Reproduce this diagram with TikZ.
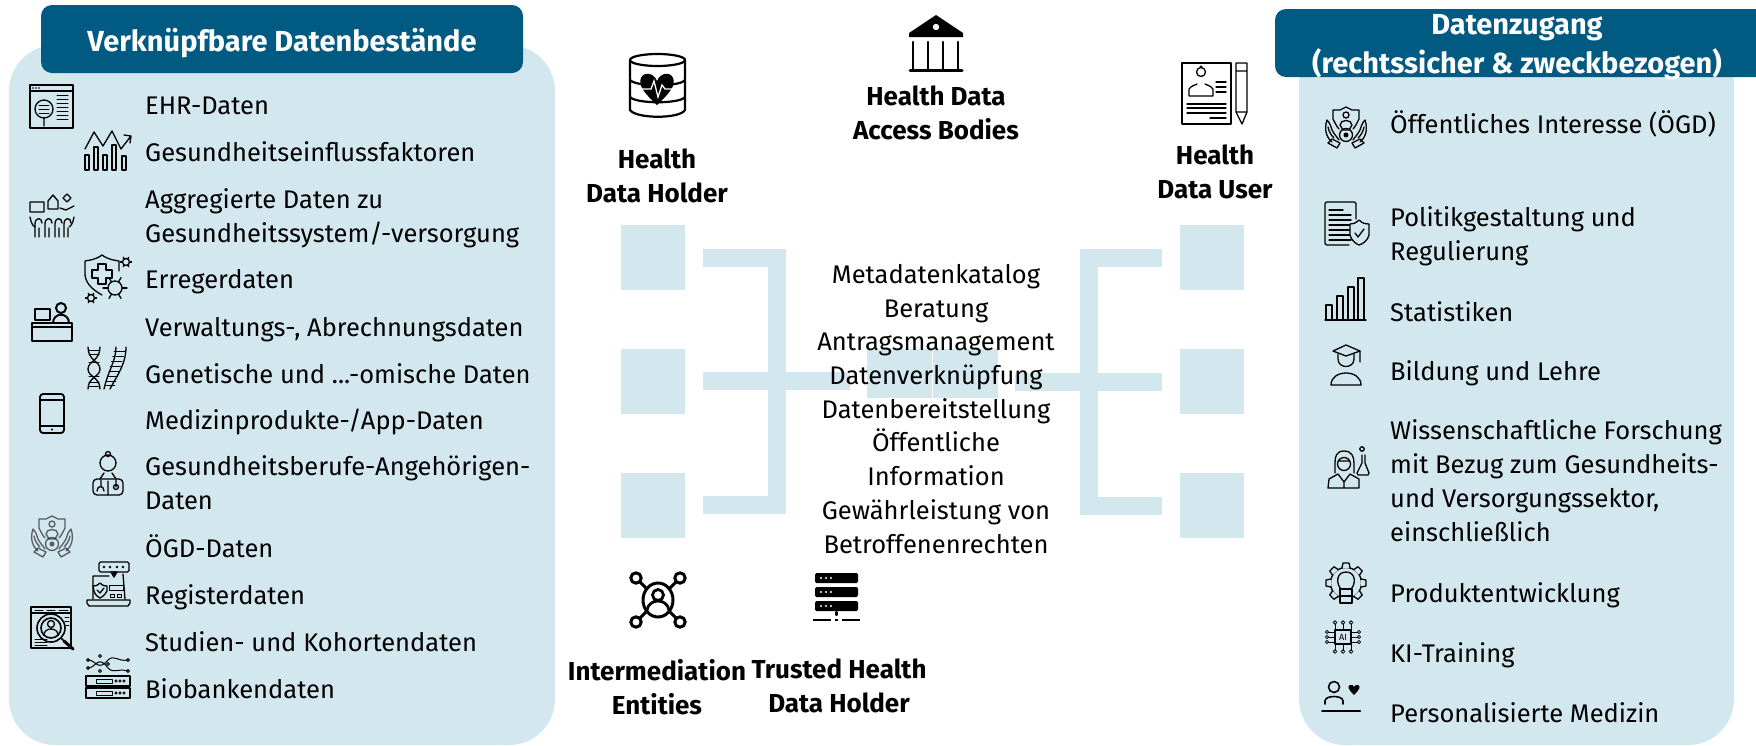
\documentclass[tikz,border=0pt]{standalone}
\usepackage{fontspec}
\setmainfont{Fira Sans}
\definecolor{panelblue}{HTML}{D3E7EF}
\definecolor{headblue}{HTML}{005A82}
\tikzset{
	panel/.style={fill=panelblue,draw=none,rounded corners=46},
	headbox/.style={fill=headblue,draw=none,rounded corners=11},
	headtext/.style={white,font=\fontsize{29}{39}\selectfont\bfseries,align=center,inner sep=0},
	entry/.style={font=\fontsize{25.5}{33.7}\selectfont,align=left,anchor=base west,inner sep=0},
	role/.style={font=\fontsize{26}{33.7}\selectfont\bfseries,align=center,inner sep=0},
	tile/.style={fill=panelblue,draw=none,minimum width=64,minimum height=65,inner sep=0},
	bracket/.style={draw=panelblue,line width=18},
	icon/.style={draw=black,line width=1.3,line cap=round,line join=round},
	ehr/.pic={
		\draw[icon] (0,0) rectangle (43,43) (0,6) -- (43,6);
		\draw[icon] (14,24) circle (9) (14,33) -- (14,41);
		\foreach \y in {20,24,28} \draw[icon,line width=1] (9,\y) -- (19,\y);
		\foreach \y in {10,14,18,22,26,30,34} \draw[icon,line width=1] (27,\y) -- (38,\y);
		\foreach \x in {3,6,9} \fill (\x,3) circle (.8);
	},
	chart/.pic={
		\draw[icon] (0,18) -- (9,1) -- (18,15) -- (27,0) -- (36,18) -- (46,5) (39,4) -- (46,5) -- (45,12);
		\foreach \x/\y in {0/24,9/16,18/24,27/14,37/25} \draw[icon] (\x,\y) rectangle (\x+4,39);
	},
	crowd/.pic={
		\draw[icon] (0,9) rectangle (14,19) (18,16) -- (18,8) -- (23,2) -- (28,8) -- (28,16) -- cycle;
		\draw[icon] (33,5) -- (37,9) -- (41,5) -- (37,1) -- cycle (30,15) -- (36,17) -- (44,13);
		\draw[icon] (0,24) .. controls (1,30) and (3,33) .. (5,34) (44,24) .. controls (43,30) and (41,33) .. (39,34);
		\foreach \x in {5,15,25,34} \draw[icon] (\x,44) -- (\x,31) .. controls (\x,24) and (\x+7,24) .. (\x+7,30) (\x+4,44) -- (\x+4,35);
	},
	virusshield/.pic={
		\draw[icon] (17,0) .. controls (10,5) and (5,5) .. (0,6) -- (0,20) .. controls (1,30) and (10,36) .. (17,40) (17,0) .. controls (24,5) and (29,5) .. (34,6) -- (34,16);
		\draw[icon] (13,9) -- (21,9) -- (21,15) -- (27,15) -- (27,23) -- (21,23) -- (21,29) -- (13,29) -- (13,23) -- (7,23) -- (7,15) -- (13,15) -- cycle;
		\draw[icon] (30,33) circle (7);
		\foreach \a in {0,60,...,300} \draw[icon] (30,33) ++(\a:7) -- ++(\a:5);
		\draw[icon] (41,7) circle (3.5) (6,43) circle (3.5);
		\foreach \a in {0,60,...,300} {\draw[icon] (41,7) ++(\a:3.5) -- ++(\a:2); \draw[icon] (6,43) ++(\a:3.5) -- ++(\a:2);}
	},
	desk/.pic={
		\draw[icon,line width=2] (0,21) rectangle (40,39) (0,25) -- (40,25);
		\draw[icon,line width=2] (3,7) rectangle (18,18) (7,21) -- (14,21);
		\draw[icon,line width=2] (29,6) circle (5) (21,21) .. controls (21,10) and (37,10) .. (37,21);
	},
	dna/.pic={
		\draw[icon] (2,0) .. controls (2,14) and (14,14) .. (14,22) .. controls (14,30) and (2,30) .. (2,42);
		\draw[icon] (14,0) .. controls (14,14) and (2,14) .. (2,22) .. controls (2,30) and (14,30) .. (14,42);
		\foreach \y in {3,7,15,29,35,39} \draw[icon,line width=1] (3,\y) -- (13,\y);
		\draw[icon] (40,0) .. controls (40,18) and (30,30) .. (24,42) (30,0) .. controls (30,14) and (22,24) .. (18,42);
		\foreach \y in {4,9,14,19,24,29,34,38} \draw[icon,line width=1] (\y*-.25+29,\y) -- (\y*-.3+40,\y);
	},
	phone/.pic={
		\draw[icon,line width=1.8,rounded corners=3] (0,0) rectangle (24,39);
		\draw[icon,line width=1.8] (0,6) -- (24,6) (0,32) -- (24,32);
		\fill (12,35.5) circle (1.2);
	},
	doctor/.pic={
		\draw[icon] (15,12) circle (8) (15,3) circle (2.5);
		\draw[icon,rounded corners=4] (0,44) rectangle (30,28);
		\draw[icon] (7,28) -- (11,22) (23,28) -- (19,22) (15,30) -- (15,44);
		\draw[icon] (8,29) -- (8,36) (4,40) .. controls (4,34) and (11,34) .. (11,40) (23,29) -- (23,36) circle (2.5);
	},
	hands/.pic={
		\draw[icon] (21,0) -- (27,3) -- (34,3) -- (34,12) .. controls (32,16) and (30,20) .. (28,22) (21,0) -- (15,3) -- (8,3) -- (8,12) .. controls (10,16) and (12,20) .. (14,22);
		\draw[icon] (21,8) circle (3) (15,18) .. controls (15,12) and (27,12) .. (27,18) -- (24,23) -- (18,23) -- cycle;
		\draw[icon] (21,28) circle (6.5);
		\fill (21,28) circle (2.5);
		\draw[icon] (7,35) .. controls (1,30) and (-1,22) .. (2,13) .. controls (5,16) and (6,20) .. (7,23) .. controls (9,27) and (12,30) .. (14,33);
		\draw[icon] (35,35) .. controls (41,30) and (43,22) .. (40,13) .. controls (37,16) and (36,20) .. (35,23) .. controls (33,27) and (30,30) .. (28,33);
		\draw[icon] (3,20) .. controls (4,25) and (6,28) .. (9,31) (39,20) .. controls (38,25) and (36,28) .. (33,31);
		\draw[icon] (3,36) -- (12,41) -- (15,36) -- (7,32) -- cycle (39,36) -- (30,41) -- (27,36) -- (35,32) -- cycle;
	},
	laptop/.pic={
		\draw[icon,rounded corners=1.5] (12,0) rectangle (42,10);
		\draw[icon,fill=black] (24,10) -- (27,15) -- (30,10) -- cycle;
		\foreach \x in {17,23,30,36} \fill (\x,5) circle (1.4);
		\draw[icon] (22,14) -- (6,14) -- (6,37) (36,12) -- (38,37);
		\draw[icon] (0,38) -- (43,38) -- (43,41) -- (41,44) -- (2,44) -- (0,41) -- cycle;
		\draw[icon] (13,21) .. controls (10,24) and (8,24) .. (6,24) -- (7,29) .. controls (8,33) and (11,35) .. (13,36) .. controls (15,35) and (18,33) .. (20,29) -- (20,24) .. controls (18,24) and (16,24) .. (13,21);
		\draw[icon] (10,28) -- (13,31) -- (17,26);
		\draw[icon,line width=1] (22,23) rectangle (36,28) (23,32) rectangle (27,35) (30,32) rectangle (34,35);
	},
	studies/.pic={
		\draw[icon,line width=1.6] (0,0) rectangle (40,41) (0,6) -- (40,6);
		\foreach \y in {10,14,18} \draw[icon,line width=1] (34,\y) -- (38,\y);
		\foreach \x/\u in {4/12,16/24,28/37} \draw[icon,line width=1] (\x,3) -- (\u,3);
		\fill[panelblue] (21,22) circle (14);
		\draw[icon,line width=1.6] (20,21) circle (14) (20,21) circle (10) (30,31) -- (33,34);
		\draw[icon,line width=3] (33,34) -- (42,42);
		\draw[icon] (20,17) circle (3.5) (13,28) .. controls (13,20) and (27,20) .. (27,28);
		\foreach \y in {32,35,38} \draw[icon,line width=1] (4,\y) -- (16,\y);
	},
	biobank/.pic={
		\draw[icon,line width=1] (2,6) .. controls (10,6) and (12,18) .. (22,6) .. controls (28,0) and (32,8) .. (42,6) (2,14) .. controls (10,14) and (12,0) .. (22,14) .. controls (28,20) and (32,14) .. (42,17);
		\foreach \x/\y in {2/6,2/14,14/2,14/17,22/10,42/6,42/17} \draw[icon,line width=1] (\x,\y) circle (1.5);
		\foreach \y in {22,34} {
			\draw[icon] (0,\y) rectangle (44,\y+10);
			\draw[icon,line width=1] (10,\y+3) rectangle (26,\y+7);
			\foreach \x in {30,34,38} \draw[icon,line width=.8] (\x,\y+5) circle (1.2);
		}
		\draw[icon] (2,44) -- (42,44);
	},
	policy/.pic={
		\draw[icon,rounded corners=2] (24,43) -- (0,43) -- (0,0) -- (31,0) -- (31,17);
		\foreach \y/\w in {8/14,13/22,18/22,23/22,28/22,33/22,38/22} \draw[icon] (4,\y) -- (\w+4,\y);
		\draw[icon,fill=panelblue] (34,18) .. controls (30,22) and (27,22) .. (25,22) -- (25,33) .. controls (26,38) and (31,42) .. (34,43) .. controls (38,42) and (43,38) .. (44,33) -- (44,22) .. controls (41,22) and (38,22) .. (34,18);
		\draw[icon] (30,31) -- (33,35) -- (39,27);
	},
	bars/.pic={
		\foreach \x/\y in {1/27,12/18,23/9,33/0} \draw[icon] (\x,42) -- (\x,\y) -- (\x+6,\y) -- (\x+6,42);
		\draw[icon] (0,42) -- (41,42);
	},
	graduate/.pic={
		\draw[icon] (16,0) -- (30,6) -- (16,11) -- (3,6) -- cycle;
		\draw[icon] (8,9) -- (8,14) .. controls (8,24) and (24,24) .. (24,14) -- (24,9) (30,6) -- (30,17);
		\draw[icon] (1,40) .. controls (1,24) and (31,24) .. (31,40) -- cycle;
	},
	scientist/.pic={
		\draw[icon] (16,2) .. controls (8,2) and (7,8) .. (7,14) -- (7,24) (16,2) .. controls (24,2) and (26,8) .. (26,14) -- (26,24);
		\draw[icon] (16,15) circle (6.5) (10,12) -- (22,12);
		\draw[icon] (0,39) -- (1,30) -- (10,25) -- (16,33) -- (22,25) -- (31,30) -- (31,39) -- cycle (16,33) -- (16,39);
		\draw[icon] (34,6) -- (34,14) -- (29,24) -- (30,26) -- (40,26) -- (41,24) -- (37,14) -- (37,6);
		\draw[icon] (34,0) circle (2.2);
	},
	gearbulb/.pic={
		\draw[icon] (21,21) circle (15.5);
		\foreach \a in {0,45,...,315} \draw[icon,fill=panelblue,rotate around={\a:(21,21)}] (17,6) -- (18,1) -- (24,1) -- (25,6);
		\draw[icon] (21,10) .. controls (11,10) and (11,22) .. (16,27) -- (26,27) .. controls (31,22) and (31,10) .. (21,10);
		\draw[icon,fill=panelblue] (15,27) rectangle (27,34) (15,34) rectangle (27,41);
	},
	chip/.pic={
		\draw[icon] (10,10) rectangle (26,24);
		\node[font=\fontsize{9}{9}\selectfont,inner sep=0] (chipAI) at (18,17) {AI};
		\foreach \x in {10,18,26} {\draw[icon,line width=.9] (\x,10) -- (\x,4) (\x,24) -- (\x,30);
			\draw[icon,line width=.8] (\x,2.5) circle (1.8) (\x,31.5) circle (1.8);}
		\foreach \y in {12,17,22} {\draw[icon,line width=.9] (10,\y) -- (3,\y) (26,\y) -- (33,\y);
			\draw[icon,line width=.8] (2,\y) circle (1.6) (34,\y) circle (1.6);}
	},
	patient/.pic={
		\draw[icon,line width=1.6] (12,7) circle (5.5) (3,24) -- (3,21) .. controls (3,15) and (21,15) .. (21,21) -- (21,24);
		\draw[icon,line width=2] (0,31) -- (38,31);
		\fill (32,15) .. controls (26,9) and (25,6) .. (28,5) .. controls (30,4) and (32,6) .. (32,7) .. controls (32,6) and (35,4) .. (36,5) .. controls (39,6) and (38,9) .. (32,15);
	},
	bank/.pic={
		\fill (28,0) -- (55,18) -- (55,22) -- (1,22) -- (1,18) -- cycle;
		\fill[white] (28,12) circle (3.2);
		\foreach \x in {5,20,35,50} \draw[icon,line width=2.4] (\x,27) -- (\x,54);
		\draw[icon,line width=3] (2,55.5) -- (54,55.5);
	},
	dbheart/.pic={
		\draw[icon,line width=2.2] (0,7) -- (0,57) .. controls (6,66) and (50,66) .. (55,57) -- (55,7);
		\draw[icon,line width=2.2] (27.5,7) ellipse (27.5 and 6);
		\draw[icon,line width=2.2] (0,27) .. controls (6,34) and (50,34) .. (55,27) (0,44) .. controls (6,51) and (50,51) .. (55,44);
		\fill (27,52) .. controls (14,40) and (8,32) .. (11,25) .. controls (14,18) and (24,20) .. (27,28) .. controls (30,20) and (40,18) .. (43,25) .. controls (46,32) and (40,40) .. (27,52);
		\draw[white,line width=1.3] (12,36) -- (21,36) -- (24,28) -- (28,44) -- (32,32) -- (35,36) -- (42,36);
	},
	userdoc/.pic={
		\draw[icon,line width=1.7] (0,0) rectangle (49,61);
		\draw[icon] (19,9) circle (4.5) (19,4) circle (1);
		\draw[icon] (7,33) -- (7,26) .. controls (10,22) and (14,22) .. (15,21) (31,33) -- (31,26) .. controls (28,22) and (24,22) .. (23,21) (7,33) -- (31,33);
		\foreach \y in {19,24,29} \draw[icon] (34,\y) -- (44,\y);
		\foreach \y in {41,45,50} \draw[icon] (5,\y) -- (44,\y);
		\draw[icon] (28,55) -- (44,55);
		\draw[icon] (54,0) -- (65,0) -- (65,49) -- (60,61) -- (54,49) -- cycle (54,8) -- (65,8) (54,49) -- (65,49);
	},
	hub/.pic={
		\draw[icon,line width=3] (28,28) ellipse (15 and 17);
		\draw[icon,line width=2.8] (28,23) circle (5.5) (17,38) .. controls (19,26) and (37,26) .. (39,38);
		\foreach \x/\y in {6/6,50/6,6/50,50/50} \draw[icon,line width=3] (\x,\y) circle (5.2);
		\foreach \x/\y/\u/\v in {10/10/17/17,46/10/39/17,10/46/17/39,46/46/39/39} \draw[icon,line width=3] (\x,\y) -- (\u,\v);
	},
	rack/.pic={
		\foreach \y in {0,14,28} {
			\fill[rounded corners=1.5] (2,\y) rectangle (45,\y+10);
			\foreach \x in {8,13,18} \fill[white] (\x,\y+5) circle (1.2);
		}
		\draw[icon,line width=2.2] (23.5,39) -- (23.5,42);
		\draw[icon,line width=2.4,line cap=butt] (0,47) -- (18,47) (22,47) -- (25,47) (29,47) -- (47,47);
	},
}
\begin{document}
\begin{tikzpicture}[x=1pt,y=-1pt]
\useasboundingbox (0,0) rectangle (1756,745);
\fill[panel] (9,45) rectangle (555,745);
\fill[panel] (1299,25) rectangle (1734,745);
\fill[headbox] (41,5) rectangle (523,73);
\fill[headbox] (1275,9) rectangle (1770,77);
\node[headtext,anchor=base] (leftHead) at (282,51) {Verknüpfbare Datenbestände};
\node[headtext,anchor=base] (rightHead) at (1517,73) {Datenzugang\\(rechtssicher \& zweckbezogen)};
% tiles and brackets
\foreach \n/\y in {A/257.5,B/381.5,C/505} {
	\node[tile] (holder\n) at (652.5,\y) {};
	\node[tile] (user\n) at (1212,\y) {};
}
\fill[panelblue] (867,349) rectangle (932,398);
\fill[panelblue] (933,349) rectangle (998,398);
\coordinate (leftTop) at (703,257.5);
\coordinate (leftMid) at (703,381);
\coordinate (leftLow) at (703,505);
\coordinate (leftJoin) at (776.5,381);
\coordinate (leftEnd) at (850,381);
\coordinate (rightTop) at (1162,258);
\coordinate (rightMid) at (1162,382);
\coordinate (rightLow) at (1162,506);
\coordinate (rightJoin) at (1089,382);
\coordinate (rightEnd) at (1015,382);
\draw[bracket,line join=miter] (leftTop) -| (leftJoin) |- (leftLow);
\draw[bracket] (leftMid) -- (leftEnd);
\draw[bracket,line join=miter] (rightTop) -| (rightJoin) |- (rightLow);
\draw[bracket] (rightMid) -- (rightEnd);
% roles
\pic at (908,15) {bank};
\pic at (630,53) {dbheart};
\pic at (1182,63) {userdoc};
\pic at (630,572) {hub};
\pic at (813,573) {rack};
\node[role,anchor=base] (accessBodies) at (936,139) {Health Data\\Access Bodies};
\node[role,anchor=base] (dataHolder) at (657,202) {Health\\Data Holder};
\node[role,anchor=base] (dataUser) at (1215,198) {Health\\Data User};
\node[role,anchor=base] (intermediation) at (657,714) {Intermediation\\Entities};
\node[role,anchor=base] (trustedHolder) at (839,712) {Trusted Health\\Data Holder};
\node[entry,align=center,anchor=base] (services) at (936,553) {Metadatenkatalog\\Beratung\\Antragsmanagement\\Datenverknüpfung\\Datenbereitstellung\\Öffentliche\\Information\\Gewährleistung von\\Betroffenenrechten};
% left list
\pic at (30,85) {ehr};
\pic at (85,131) {chart};
\pic at (30,193) {crowd};
\pic at (85,255) {virusshield};
\pic at (32,302) {desk};
\pic at (86,347) {dna};
\pic at (40,394) {phone};
\pic at (93,451) {doctor};
\pic[opacity=.6] at (31,516) {hands};
\pic at (87,562) {laptop};
\pic at (31,607) {studies};
\pic at (86,654) {biobank};
\node[entry] (ehrData) at (145,114) {EHR-Daten};
\node[entry] (factors) at (145,161) {Gesundheitseinflussfaktoren};
\node[entry] (aggregate) at (145,242) {Aggregierte Daten zu\\Gesundheitssystem/-versorgung};
\node[entry] (pathogen) at (145,288) {Erregerdaten};
\node[entry] (billing) at (145,336) {Verwaltungs-, Abrechnungsdaten};
\node[entry] (genetic) at (145,383) {Genetische und ...-omische Daten};
\node[entry] (devices) at (145,429) {Medizinprodukte-/App-Daten};
\node[entry] (professions) at (145,509) {Gesundheitsberufe-Angehörigen-\\Daten};
\node[entry] (oegdData) at (145,557) {ÖGD-Daten};
\node[entry] (registry) at (145,604) {Registerdaten};
\node[entry] (cohorts) at (145,651) {Studien- und Kohortendaten};
\node[entry] (biobanks) at (145,698) {Biobankendaten};
% right list
\pic at (1325,107) {hands};
\pic at (1325,202) {policy};
\pic at (1325,278) {bars};
\pic at (1330,345) {graduate};
\pic at (1328,449) {scientist};
\pic at (1325,562) {gearbulb};
\pic at (1325,620) {chip};
\pic at (1322,680) {patient};
\node[entry] (interest) at (1390,133) {Öffentliches Interesse (ÖGD)};
\node[entry] (politics) at (1390,260) {Politikgestaltung und\\Regulierung};
\node[entry] (statistics) at (1390,321) {Statistiken};
\node[entry] (teaching) at (1390,380) {Bildung und Lehre};
\node[entry] (research) at (1390,541) {Wissenschaftliche Forschung\\mit Bezug zum Gesundheits-\\und Versorgungssektor,\\einschließlich};
\node[entry] (product) at (1390,602) {Produktentwicklung};
\node[entry] (training) at (1390,662) {KI-Training};
\node[entry] (medicine) at (1390,722) {Personalisierte Medizin};
\end{tikzpicture}
\end{document}
